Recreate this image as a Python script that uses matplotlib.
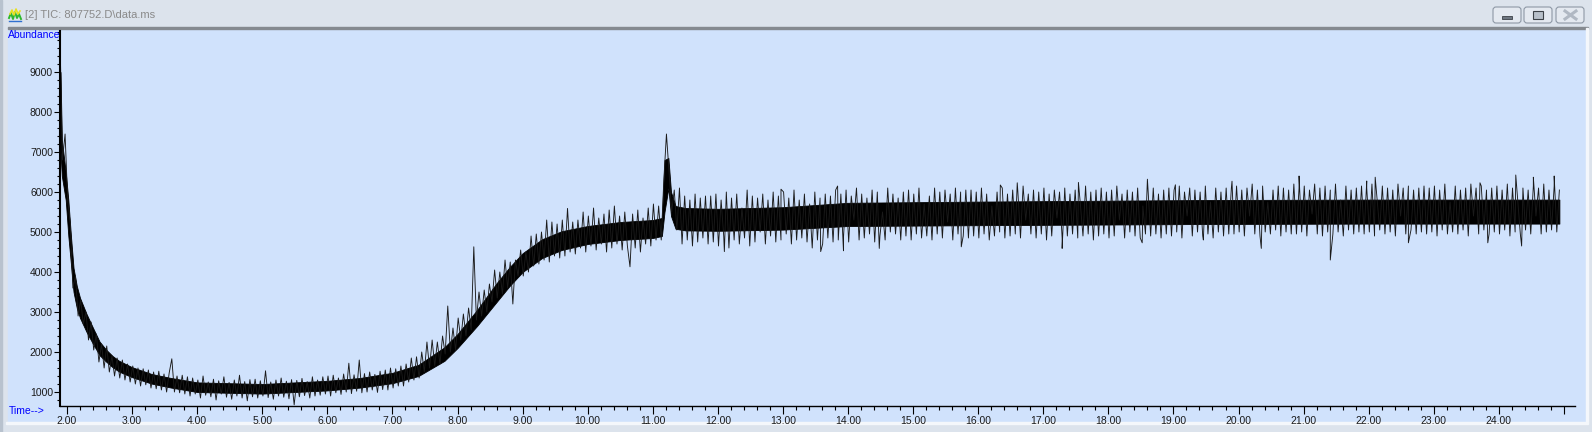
#!/usr/bin/env python3

"""
Redraws a ChemStation TIC window: data.ms of 807752.D, abundance against time.
"""

import numpy as np
import matplotlib
matplotlib.use("Agg")
import matplotlib.pyplot as plt
from matplotlib.patches import Rectangle, FancyBboxPatch
from matplotlib.ticker import MultipleLocator, FixedLocator


# Scan values, one every 0.04 min from 1.89 min
scan_start = 1.89
scan_step = 0.04

# 1.89 - 2.85 min, solvent tail
seg_tail = [10000, 6800, 7450, 5800, 5200, 3600, 3900, 2900, 3300, 2700,
            3000, 2300, 2750, 2050, 2450, 1750, 2200, 1600, 2150, 1500,
            1900, 1400, 1850, 1350, 1800]
# 2.89 - 3.85 min
seg_3min = [1300, 1700, 1250, 1650, 1200, 1600, 1150, 1580, 1180, 1550,
            1100, 1500, 1080, 1520, 1050, 1450, 1000, 1480, 1830, 1000,
            1400, 980, 1420, 950, 1380]
# 3.89 - 4.85 min
seg_4min = [900, 1350, 950, 1300, 850, 1400, 920, 1250, 880, 1320,
            800, 1280, 950, 1380, 870, 1240, 820, 1300, 900, 1420,
            850, 1260, 780, 1310, 880]
# 4.89 - 5.85 min
seg_5min = [1320, 850, 1280, 900, 1530, 860, 1250, 820, 1300, 900,
            1350, 870, 1270, 830, 1310, 680, 1290, 880, 1340, 910,
            1260, 850, 1380, 900, 1300]
# 5.89 - 6.85 min
seg_6min = [920, 1380, 950, 1400, 900, 1420, 980, 1350, 940, 1450,
            1000, 1720, 960, 1430, 1020, 1800, 980, 1460, 1000, 1500,
            1050, 1440, 990, 1520, 1060]
# 6.89 - 7.85 min, column bleed starts to rise
seg_7min = [1550, 1050, 1600, 1100, 1580, 1150, 1650, 1150, 1700, 1250,
            1850, 1300, 1880, 1350, 2000, 1500, 2250, 1600, 2300, 1650,
            2250, 1700, 2400, 1950, 3150]
# 7.89 - 8.85 min
seg_8min = [2000, 2600, 2050, 2850, 2300, 2950, 2400, 3100, 2550, 4630,
            2800, 3500, 2900, 3550, 3000, 3700, 3250, 4050, 3350, 4000,
            3450, 4300, 3600, 4250, 3200]
# 8.89 - 9.85 min
seg_9min = [4300, 3900, 4550, 3900, 4500, 4000, 4900, 4150, 4950, 4200,
            5000, 4300, 5300, 4250, 5250, 4400, 5200, 4350, 5300, 4400,
            5590, 4500, 5250, 4450, 5300]
# 9.89 - 10.85 min
seg_10min = [4600, 5500, 4500, 5400, 4650, 5600, 4550, 5350, 4700, 5450,
             4500, 5550, 4600, 5650, 4700, 5400, 4550, 5500, 4650, 4130,
             5450, 4600, 5550, 4500, 5350]
# 10.89 - 11.85 min, peak near 11.2
seg_11min = [4700, 5600, 4650, 5700, 4800, 5650, 4800, 6300, 7450, 6500,
             5500, 6050, 5050, 6100, 4700, 5900, 4800, 5800, 4650, 5950,
             4750, 5850, 4850, 5900, 4700]
# 11.89 - 24.93 min, flat plateau
seg_plateau = [
    5900, 4750, 5950, 4650, 5800, 4900, 6000, 4600, 5850, 4800,
    5950, 4700, 5600, 4850, 6050, 4650, 5900, 4750, 5850, 5000,
    5950, 4700, 5800, 4900, 6000,
    4750, 5900, 4800, 6000, 4950, 5850, 4700, 6050, 4800, 5800,
    4850, 5950, 4750, 5700, 4600, 6000, 4800, 5850, 4700, 5950,
    4850, 5900, 4750, 6050, 4800,
    5950, 4850, 6050, 4750, 5900, 5300, 6100, 4800, 5950, 4850,
    5850, 4950, 6050, 4750, 6000, 4900, 5500, 4800, 6100, 5000,
    5950, 4950, 5850, 4800, 6000,
    4900, 6050, 4800, 5950, 4950, 6100, 4850, 5700, 4900, 5900,
    4800, 6100, 4950, 6000, 4850, 6050, 5250, 5950, 4800, 6100,
    4950, 6000, 4900, 6050, 4850,
    6050, 4900, 6000, 4850, 6100, 4950, 5950, 4800, 5650, 4900,
    6000, 5000, 6100, 4850, 5950, 4900, 6050, 4950, 6000, 4850,
    6150, 5300, 5950, 4950, 6050,
    4850, 6000, 4950, 6100, 4800, 5950, 4900, 6050, 5350, 6000,
    4850, 6100, 4900, 5950, 4950, 6050, 4850, 5700, 4900, 6150,
    4950, 6000, 4800, 6050, 4900,
    6100, 4950, 6000, 4850, 6050, 4900, 6150, 5300, 5950, 4850,
    6050, 5000, 6000, 4900, 6100, 4850, 5650, 4950, 6050, 4900,
    6100, 4950, 5950, 4850, 6050,
    4950, 6100, 4900, 6050, 5000, 6150, 4850, 6000, 5400, 6100,
    4900, 6050, 5000, 6000, 4900, 6150, 4950, 5750, 4850, 6100,
    5000, 6000, 4900, 6100, 4950,
    6100, 4950, 6150, 5000, 6050, 4900, 6100, 5400, 6200, 4950,
    6050, 4900, 6150, 5000, 5750, 4950, 6050, 5050, 6150, 4900,
    6100, 5000, 6050, 4950, 6200,
    4950, 6100, 5000, 6150, 4900, 6050, 5450, 6200, 4950, 6100,
    4900, 6150, 5000, 6050, 4950, 6200, 5000, 5800, 4900, 6150,
    5050, 6050, 4950, 6100, 5000,
    6150, 4950, 6100, 5000, 6200, 4900, 5800, 5050, 6150, 4950,
    6100, 5000, 6050, 4900, 6200, 5400, 6100, 4950, 6150, 5050,
    6050, 4950, 6100, 5000, 6150,
    4950, 6100, 5000, 6150, 4900, 6050, 5050, 6200, 4950, 5750,
    5000, 6150, 4950, 6050, 5050, 6100, 4900, 6200, 5400, 6100,
    4950, 6150, 5050, 6050, 4950,
    6100, 5000, 6150, 4950, 6050, 5050, 6200, 4900, 6100, 5000,
    5800, 4950, 6100, 5050, 6050, 4950, 6150, 5400, 6100, 4950,
    6200, 5000, 6050, 5050, 6150,
    5000, 6050]

# single scans that stick out of the plateau band
spike_times = [12.10, 12.97, 13.58, 13.84, 13.93, 14.48, 15.74, 16.34,
               16.60, 17.29, 17.54, 18.52, 18.60, 19.03, 19.46, 19.90,
               20.35, 20.93, 21.41, 21.97, 22.10, 22.61, 23.71, 23.83,
               24.26, 24.35, 24.53, 24.85]
spike_values = [4510, 6070, 4510, 6150, 4530, 4590, 4630, 6175,
                6230, 4590, 6240, 4730, 6320, 6180, 4800, 6270,
                4590, 6400, 4300, 6275, 6370, 4730, 6230, 4730,
                6425, 4650, 6370, 6400]

# dense black core of the noise band (where most scans overlap)
core_times = [1.90, 1.92, 1.98, 2.02, 2.06, 2.10, 2.15, 2.20, 2.30, 2.40,
              2.50, 2.60, 2.70, 2.80, 3.00, 3.30, 3.60, 4.00, 5.00, 6.00,
              6.50, 7.00, 7.40, 7.80, 8.00, 8.30, 8.60, 8.80, 9.00, 9.30,
              9.60, 10.00, 10.50, 11.00, 11.14, 11.18, 11.24, 11.28, 11.35,
              11.50, 12.00, 13.00, 14.00, 16.00, 19.50, 22.00, 24.93]
core_low = [7000, 6400, 5800, 4900, 4200, 3500, 3100, 2850, 2500, 2200,
            1920, 1760, 1620, 1510, 1370, 1210, 1110, 1000, 960, 1040,
            1110, 1220, 1400, 1780, 2100, 2650, 3250, 3650, 4000, 4350,
            4550, 4700, 4800, 4850, 4900, 5500, 6100, 5400, 5080,
            5040, 5030, 5060, 5150, 5170, 5200, 5210, 5210]
core_high = [9000, 7300, 6500, 5800, 4900, 4100, 3650, 3350, 2950, 2600,
             2260, 2060, 1900, 1780, 1620, 1450, 1350, 1240, 1200, 1280,
             1350, 1480, 1680, 2120, 2450, 3050, 3720, 4120, 4470, 4820,
             5020, 5150, 5250, 5300, 5350, 6800, 6850, 6000, 5650,
             5600, 5580, 5620, 5730, 5760, 5800, 5810, 5810]

x_major = list(range(2, 26))
x_labels = ["%.2f" % t for t in range(2, 25)] + [""]
y_major = [1000, 2000, 3000, 4000, 5000, 6000, 7000, 8000, 9000]

W, H = 1592, 432


def build_trace():
    values = (seg_tail + seg_3min + seg_4min + seg_5min + seg_6min +
              seg_7min + seg_8min + seg_9min + seg_10min + seg_11min +
              seg_plateau)
    times = scan_start + scan_step * np.arange(len(values))
    t = np.concatenate([times, spike_times])
    v = np.concatenate([values, spike_values])
    order = np.argsort(t, kind="stable")
    return t[order], v[order]


def draw_window(fig):
    bg = fig.add_axes([0, 0, 1, 1], zorder=0)

    bg.add_patch(Rectangle((0, 0), W, H, color="#DCE3EC"))
    # title bar gradient
    grad = np.linspace(0, 1, 28).reshape(-1, 1)
    bar_cmap = matplotlib.colors.LinearSegmentedColormap.from_list(
        "bar", ["#E6EBF1", "#D3DBE6"])
    bg.imshow(grad, extent=[0, W, 27, 0], aspect="auto", cmap=bar_cmap)
    bg.set_xlim(0, W)
    bg.set_ylim(H, 0)
    bg.axis("off")

    bg.add_patch(Rectangle((8, 28), 1578, 394, color="#D0E2FC"))
    bg.add_patch(Rectangle((8, 26.5), 1580, 2, color="#858A90"))
    bg.add_patch(Rectangle((1586, 28), 2, 394, color="#F4F7FB"))
    bg.add_patch(Rectangle((6, 422), 1582, 2, color="#F4F7FB"))
    bg.add_patch(Rectangle((0, 0), 2, H, color="#B8C2CE"))

    # window buttons
    for x0 in [1493, 1524, 1556]:
        bg.add_patch(FancyBboxPatch((x0, 7), 28, 16,
                                    boxstyle="round,pad=0,rounding_size=3",
                                    facecolor="#E4E9F0", edgecolor="#8E98A5",
                                    linewidth=0.8))
    bg.add_patch(Rectangle((1502, 16), 10, 3, facecolor="#6E7680",
                           edgecolor="#3C4147", linewidth=0.6))
    bg.add_patch(Rectangle((1533, 11), 10, 8, facecolor="#B8C0CA",
                           edgecolor="#3C4147", linewidth=0.8))
    bg.plot([1565, 1576], [11, 19], color="#B0B8C3", lw=2.2)
    bg.plot([1565, 1576], [19, 11], color="#B0B8C3", lw=2.2)

    # small chromatogram icon
    bg.plot([9, 11, 13, 15, 17, 19, 21], [18, 13, 19, 12, 18, 14, 19],
            color="#2EB82E", lw=1.4)
    bg.plot([10, 12, 14, 16, 18, 20], [14, 10, 15, 9, 14, 11],
            color="#E8E020", lw=1.2)
    bg.plot([9, 21], [21, 21], color="#3070D0", lw=1.0)

    fig.text(25 / W, 1 - 14.5 / H, "[2] TIC: 807752.D\\data.ms",
             fontsize=8, color="#8A8A8A", family="Liberation Sans",
             va="center", ha="left")
    fig.text(8 / W, 1 - 35 / H, "Abundance", fontsize=7.5, color="#0000FF",
             family="Liberation Sans", va="center", ha="left")
    fig.text(9 / W, 1 - 411 / H, "Time-->", fontsize=7.5, color="#0000FF",
             family="Liberation Sans", va="center", ha="left")


def create_plot():
    times, abundance = build_trace()

    fig = plt.figure(figsize=(W / 100, H / 100), dpi=100)
    draw_window(fig)

    ax = fig.add_axes([60 / W, (H - 406) / H, (1575 - 60) / W, (406 - 31) / H],
                      zorder=2)
    ax.patch.set_alpha(0)
    ax.fill_between(core_times, core_low, core_high, color="black",
                    linewidth=0.6)
    ax.plot(times, abundance, color="#1A1A1A", linewidth=0.65)

    ax.set_xlim(1.892, 25.17)
    ax.set_ylim(650, 10025)

    for side in ["top", "right"]:
        ax.spines[side].set_visible(False)
    ax.spines["left"].set_linewidth(1.5)
    ax.spines["bottom"].set_linewidth(1.0)

    ax.xaxis.set_major_locator(FixedLocator(x_major))
    ax.set_xticklabels(x_labels)
    ax.xaxis.set_minor_locator(MultipleLocator(0.2))
    ax.yaxis.set_major_locator(FixedLocator(y_major))
    ax.set_yticklabels([str(v) for v in y_major])
    ax.yaxis.set_minor_locator(MultipleLocator(200))

    ax.tick_params(axis="x", which="major", direction="out", length=6,
                   width=0.8, pad=1.5, labelsize=7.5, labelcolor="#1A1A1A")
    ax.tick_params(axis="x", which="minor", direction="out", length=3,
                   width=0.8)
    ax.tick_params(axis="y", which="major", direction="out", length=4,
                   width=0.8, pad=1, labelsize=7.5, labelcolor="#1A1A1A")
    ax.tick_params(axis="y", which="minor", direction="out", length=2,
                   width=0.8)
    for lab in ax.get_xticklabels() + ax.get_yticklabels():
        lab.set_family("Liberation Sans")

    fig.savefig("out.png", dpi=100)


def main():
    create_plot()


if __name__ == "__main__":
    main()
